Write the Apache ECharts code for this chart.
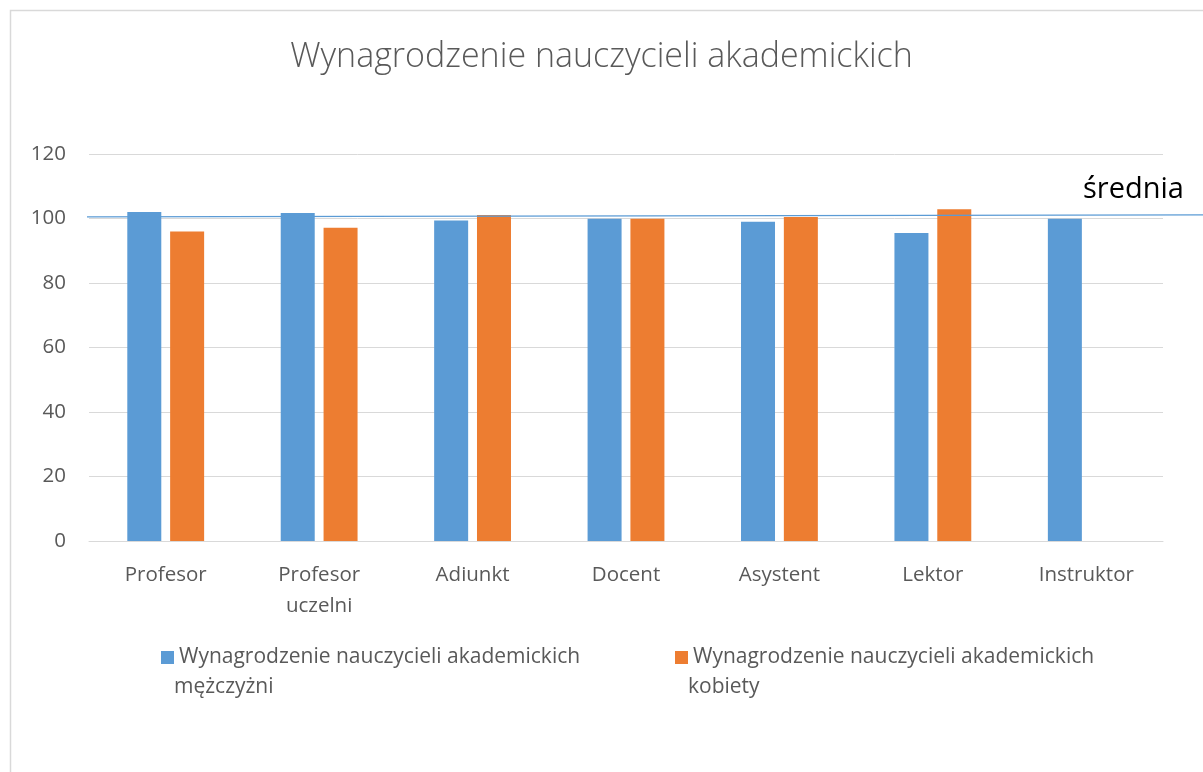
<!DOCTYPE html>
<html><head><meta charset="utf-8">
<script src="https://cdn.jsdelivr.net/npm/echarts@6/dist/echarts.min.js"></script>
<style>html,body{margin:0;padding:0;background:#fff}#c{width:1203px;height:772px}</style>
</head><body><div id="c"></div>
<script>
const categories = ['Profesor', 'Profesor\nuczelni', 'Adiunkt', 'Docent', 'Asystent', 'Lektor', 'Instruktor'];
const menValues = [102.0, 101.7, 99.4, 99.9, 99.0, 95.5, 99.9];
const womenValues = [96.0, 97.1, 101.1, 99.9, 100.5, 102.9, null];
const seriesNames = ['Wynagrodzenie nauczycieli akademickich', 'Wynagrodzenie nauczycieli akademickich '];
const seriesSecondLines = ['mężczyżni', 'kobiety'];
const avgLineValues = [100.5, 101.1];
const avgLabel = 'średnia';
const yTicks = {min: 0, max: 120, interval: 20};
const titleText = 'Wynagrodzenie nauczycieli akademickich';

const FONT = '"Open Sans", sans-serif';
const GREY = '#595959';
const FS = 20.5;
const chart = echarts.init(document.getElementById('c'), null, {renderer: 'canvas'});
const option = {
  backgroundColor: '#fff',
  animation: false,
  title: {
    text: titleText, left: 'center', top: 35,
    textStyle: {fontFamily: FONT, fontSize: 34, fontWeight: 300, color: GREY}
  },
  grid: {left: 89, right: 40, top: 154, bottom: 231, containLabel: false},
  legend: [
    {data: [seriesNames[0]], left: 156, top: 642, itemWidth: 13, itemHeight: 13, itemGap: 0, itemTextGap: 5,
     icon: 'rect', textStyle: {fontFamily: FONT, fontSize: 21, color: GREY}},
    {data: [seriesNames[1]], left: 670, top: 642, itemWidth: 13, itemHeight: 13, itemGap: 0, itemTextGap: 5,
     icon: 'rect', textStyle: {fontFamily: FONT, fontSize: 21, color: GREY}}
  ],
  xAxis: {
    type: 'category', data: categories,
    axisLine: {lineStyle: {color: '#d9d9d9', width: 1}},
    axisTick: {show: false},
    axisLabel: {fontFamily: FONT, fontSize: FS, color: GREY, margin: 19, lineHeight: 31, interval: 0}
  },
  yAxis: {
    type: 'value', min: yTicks.min, max: yTicks.max, interval: yTicks.interval,
    axisLine: {show: false}, axisTick: {show: false},
    splitLine: {lineStyle: {color: '#d9d9d9', width: 1}},
    axisLabel: {fontFamily: FONT, fontSize: FS, color: GREY, margin: 23}
  },
  series: [
    {name: seriesNames[0], type: 'bar', data: menValues, barWidth: 34, barGap: '26%',
     itemStyle: {color: '#5B9BD5'}},
    {name: seriesNames[1], type: 'bar', data: womenValues, barWidth: 34,
     itemStyle: {color: '#ED7D31'}}
  ]
};
chart.setOption(option);

const yL = chart.convertToPixel({yAxisIndex: 0}, avgLineValues[0]);
const yR = chart.convertToPixel({yAxisIndex: 0}, avgLineValues[1]);
chart.setOption({
  graphic: [
    {type: 'rect', shape: {x: 10.5, y: 10.5, width: 1300, height: 900}, silent: true,
     style: {fill: 'none', stroke: '#d9d9d9', lineWidth: 1.5}, z: -10},
    {type: 'line', shape: {x1: 87, y1: yL, x2: 1203, y2: yR}, silent: true,
     style: {stroke: '#5B9BD5', lineWidth: 1.3}, z: 100},
    {type: 'text', left: 1083, top: 175, silent: true,
     style: {text: avgLabel, fontFamily: FONT, fontSize: 29, fill: '#000'}},
    {type: 'text', left: 174, top: 677, silent: true,
     style: {text: seriesSecondLines[0], fontFamily: FONT, fontSize: 21, fill: GREY}},
    {type: 'text', left: 688, top: 677, silent: true,
     style: {text: seriesSecondLines[1], fontFamily: FONT, fontSize: 21, fill: GREY}}
  ]
});
</script></body></html>
